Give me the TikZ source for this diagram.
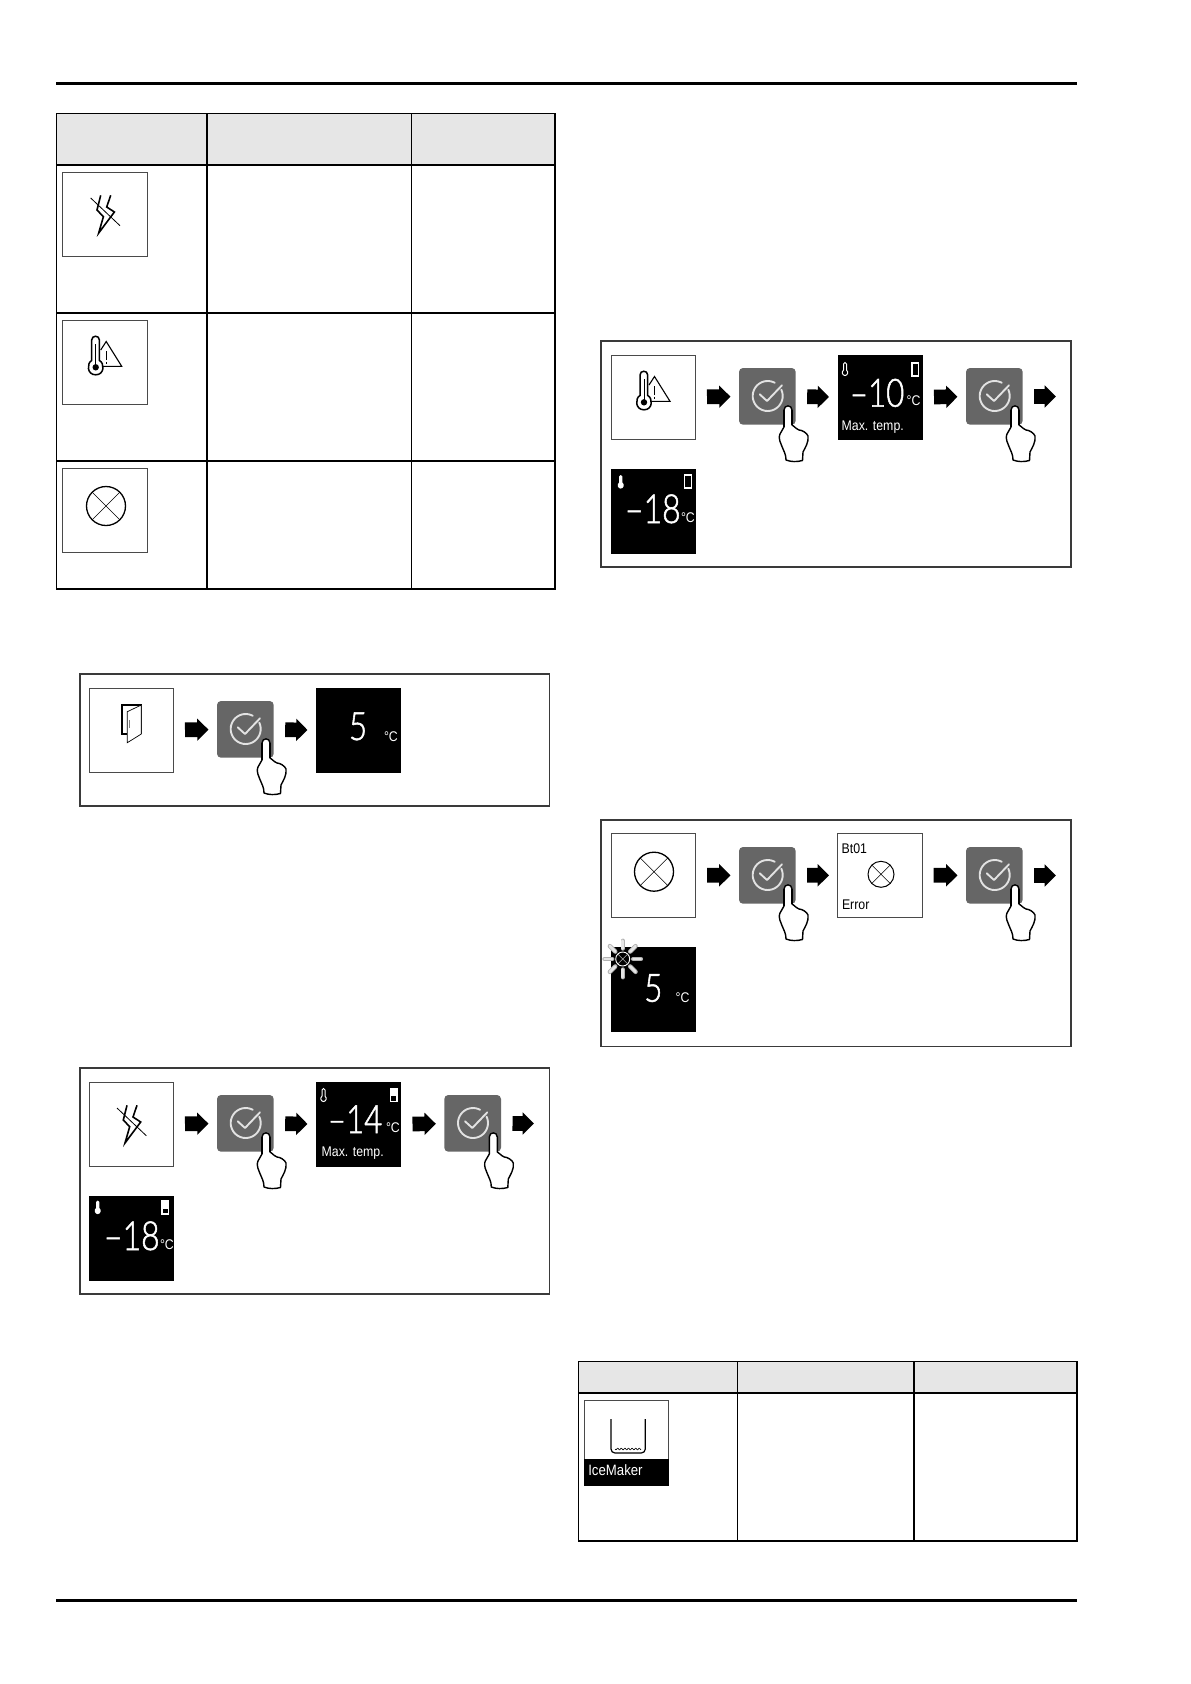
\documentclass[tikz,border=0pt]{standalone}
\usepackage{fontspec}
\usetikzlibrary{arrows.meta}
\setmainfont{Liberation Sans}
\newfontfamily\dispf[FakeStretch=0.88]{Liberation Sans}
\newfontfamily\bigf[FakeStretch=0.8,FakeBold=1.3]{Lato Light}
\definecolor{headgray}{HTML}{E6E6E6}
\definecolor{btngray}{HTML}{666666}
\definecolor{chk}{HTML}{E2E2E2}
\definecolor{boxline}{HTML}{3A3A3A}
\definecolor{tileline}{HTML}{4A4A4A}
\tikzset{
  x=1pt,y=-1pt,
  tline/.style={draw=black,line width=1.1pt},
  framebox/.style={draw=boxline,line width=1.1pt},
  tile/.style={minimum size=84.5pt,inner sep=0pt,outer sep=0pt,draw=tileline,line width=0.8pt,fill=white},
  blacktile/.style={minimum size=85pt,inner sep=0pt,outer sep=0pt,fill=black},
  btn/.style={minimum size=56.7pt,inner sep=0pt,outer sep=0pt,fill=btngray,rounded corners=4pt},
  flow/.style={line width=14.7pt,-{Triangle[length=11.3pt,width=21.7pt]},shorten <=11.5pt,shorten >=8.5pt},
  icon/.style={line width=1.6pt,line join=miter},
  disp/.style={text=white,inner sep=0pt,outer sep=0pt,anchor=base west},
  dtxt/.style={text=black,inner sep=0pt,outer sep=0pt,anchor=base west},
}
\newcommand{\okbtn}[3]{%
  \node[btn,anchor=north west] (#3) at (#1,#2) {};
  \begin{scope}[shift={(#1,#2)}]
    \draw[chk,line width=1.9pt,line cap=round] plot[domain=62:385,samples=40] ({28.7+15*cos(\x)},{28-15*sin(\x)});
    \draw[chk,line width=1.9pt,line cap=round,line join=round] (20.7,26.3) -- (28,33) -- (43,17.3);
    \draw[fill=white,draw=black,line width=1.4pt,line join=round] (45,42) .. controls (45,36.5) and (53,36.5) .. (53,42) -- (53,57) .. controls (57,59.5) and (58,62) .. (60,62) .. controls (63,62) and (68,65) .. (69,68) .. controls (70,74) and (66,80) .. (64,84) -- (63.5,92.5) .. controls (58,94) and (52,94) .. (47,92) .. controls (47,86) and (45,84) .. (42,76) .. controls (40,72) and (40,68) .. (41,66) -- (45,59) -- cycle;
    \draw[black,line width=1.1pt] (45,42) -- (45,59) (53,42) -- (53,57);
  \end{scope}}
\newcommand{\xcirc}[4]{% centre, radius, line width
  \draw[line width=#4pt] (#1,#2) circle[radius=#3pt];
  \draw[line width=0.6pt] (#1-#3*0.72,#2-#3*0.72) -- (#1+#3*0.72,#2+#3*0.72) (#1-#3*0.72,#2+#3*0.72) -- (#1+#3*0.72,#2-#3*0.72);}
\newcommand{\noPower}[2]{%
  \begin{scope}[shift={(#1,#2)}]
    \draw[icon] (38,23.3) -- (34.3,38) -- (40.7,44.7) -- (36,61) -- (51.7,40) -- (44,35) -- (48,23.3);
    \draw[line width=0.8pt] (28,26) -- (57.3,53.7);
  \end{scope}}
\newcommand{\thermWarn}[2]{%
  \begin{scope}[shift={(#1,#2)}]
    \draw[line width=1.1pt] (38,46.3) -- (59,46.3) -- (43.5,21.5) -- (38,30);
    \draw[line width=1pt] (43.3,31) -- (43.3,40) (43.3,41.8) -- (43.3,43.6);
    \draw[line width=1.5pt,fill=white] (29,40.5) -- (29,20) .. controls (29,15) and (36.7,15) .. (36.7,20) -- (36.7,40.5) .. controls (42,43) and (42,54.8) .. (33,54.8) .. controls (24,54.8) and (24,43) .. (29,40.5) -- cycle;
    \fill (33,47.3) circle[radius=3.2pt];
    \draw[line width=1pt] (33,24) -- (33,47);
  \end{scope}}
\newcommand{\thermO}[2]{%
  \begin{scope}[shift={(#1,#2)}]
    \draw[white,line width=1pt] (0,7.5) -- (0,1.5) .. controls (0,-0.5) and (3,-0.5) .. (3,1.5) -- (3,7.5) .. controls (5.2,9.5) and (4,13) .. (1.5,13) .. controls (-1,13) and (-2.2,9.5) .. (0,7.5) -- cycle;
  \end{scope}}
\newcommand{\thermS}[2]{%
  \begin{scope}[shift={(#1,#2)}]
    \fill[white] (0,7.5) -- (0,1.5) .. controls (0,-0.5) and (3.4,-0.5) .. (3.4,1.5) -- (3.4,7.5) .. controls (6,9.5) and (4.5,13.6) .. (1.7,13.6) .. controls (-1.1,13.6) and (-2.6,9.5) .. (0,7.5) -- cycle;
  \end{scope}}
\newcommand{\doorS}[3]{% frame with top part #3 high filled white
  \begin{scope}[shift={(#1,#2)}]
    \draw[white,line width=1.2pt] (0,0) rectangle (6.6,13);
    \fill[white] (0,0) rectangle (6.6,#3);
  \end{scope}}
\begin{document}
\begin{tikzpicture}
\useasboundingbox (0,0) rectangle (1191,1684);
\fill[white] (0,0) rectangle (1191,1684);
\coordinate (rtl) at (56,83.7); \coordinate (rtr) at (1077,83.7);
\coordinate (rbl) at (56,1600.3); \coordinate (rbr) at (1077,1600.3);
\draw[line width=3.3pt] (rtl) -- (rtr);
\draw[line width=3.3pt] (rbl) -- (rbr);
% table 1
\fill[headgray] (56.5,113.5) rectangle (555,165);
\draw[tline] (56.5,113.5) rectangle (555,589);
\draw[tline] (56.5,165) -- (555,165) (56.5,313) -- (555,313) (56.5,461) -- (555,461);
\draw[tline] (207,113.5) -- (207,589) (411.5,113.5) -- (411.5,589);
\node[tile,anchor=north west] (t1a) at (62.7,172) {};
\noPower{62.7}{172}
\node[tile,anchor=north west] (t1b) at (62.7,320) {};
\thermWarn{62.7}{320}
\node[tile,anchor=north west] (t1c) at (62.7,468) {};
\xcirc{106}{506}{19.5}{1.3}
% box A
\draw[framebox] (80,674) rectangle (549.5,806);
\node[tile,anchor=north west] (a1) at (89,688) {};
\begin{scope}[shift={(89,688)}]
  \draw[line width=1.6pt] (38.3,46) -- (32.7,46) -- (32.7,17) -- (52.3,17) -- (52.3,46);
  \draw[line width=0.7pt,fill=white] (38.3,23.7) -- (52.3,17) -- (52.3,46) -- (38.3,54.7) -- cycle;
  \draw[line width=0.9pt,gray] (40.5,32) -- (40.5,40);
\end{scope}
\okbtn{217}{701}{a2}
\node[blacktile,anchor=north west] (a3) at (316,688) {};
\node[disp,font=\bigf\fontsize{39}{39}\selectfont] at (349,740) {5};
\node[disp,font=\dispf\fontsize{14}{14}\selectfont] at (384,741) {°C};
\draw[flow] (a1) -- (a2);
\draw[flow] (a2) -- (a3);
% box B
\draw[framebox] (80,1068) rectangle (549.5,1294);
\node[tile,anchor=north west] (b1) at (89,1082) {};
\noPower{89}{1082}
\okbtn{217}{1095}{b2}
\node[blacktile,anchor=north west] (b3) at (316,1082) {};
\thermO{322}{1088.5}
\doorS{390.3}{1088.5}{7.5}
\node[disp,font=\bigf\fontsize{39}{39}\selectfont] at (328,1133) {–14};
\node[disp,font=\dispf\fontsize{14}{14}\selectfont] at (386,1132) {°C};
\node[disp,font=\dispf\fontsize{14}{14}\selectfont] at (321.7,1156.7) {Max. temp.};
\okbtn{444.3}{1095}{b4}
\coordinate (b5) at (542.5,1123.5);
\node[blacktile,anchor=north west] (b6) at (89,1196) {};
\thermS{96}{1200.5}
\doorS{162}{1201}{7.5}
\node[disp,font=\bigf\fontsize{40}{40}\selectfont] at (104,1250) {–18};
\node[disp,font=\dispf\fontsize{14}{14}\selectfont] at (160,1249) {°C};
\draw[flow] (b1) -- (b2);
\draw[flow] (b2) -- (b3);
\draw[flow] (b3) -- (b4);
\draw[flow] (b4) -- (b5);
% box C
\draw[framebox] (601,341) rectangle (1071,567);
\node[tile,anchor=north west] (c1) at (611,355) {};
\thermWarn{611}{355}
\okbtn{739}{368}{c2}
\node[blacktile,anchor=north west] (c3) at (837.5,355) {};
\thermO{843.5}{362.5}
\doorS{912}{363}{0}
\node[disp,font=\bigf\fontsize{39}{39}\selectfont] at (850,406.7) {–10};
\node[disp,font=\dispf\fontsize{14}{14}\selectfont] at (906.7,405.7) {°C};
\node[disp,font=\dispf\fontsize{14}{14}\selectfont] at (841.7,430.7) {Max. temp.};
\okbtn{966}{368}{c4}
\coordinate (c5) at (1064.5,396.5);
\node[blacktile,anchor=north west] (c6) at (611,469) {};
\thermS{619}{475}
\doorS{684.5}{475}{0}
\node[disp,font=\bigf\fontsize{40}{40}\selectfont] at (625,523) {–18};
\node[disp,font=\dispf\fontsize{14}{14}\selectfont] at (681,522) {°C};
\draw[flow] (c1) -- (c2);
\draw[flow] (c2) -- (c3);
\draw[flow] (c3) -- (c4);
\draw[flow] (c4) -- (c5);
% box D
\draw[framebox] (601,820) rectangle (1071,1046.7);
\node[tile,anchor=north west] (d1) at (611,833) {};
\xcirc{654}{871.7}{19.5}{1.3}
\okbtn{739}{847}{d2}
\node[tile,anchor=north west] (d3) at (837.5,833) {};
\xcirc{881}{874.3}{13}{1}
\node[dtxt,font=\dispf\fontsize{14}{14}\selectfont] at (841.7,853) {Bt01};
\node[dtxt,font=\dispf\fontsize{14}{14}\selectfont] at (842,909) {Error};
\okbtn{966}{847}{d4}
\coordinate (d5) at (1064.5,875.5);
\node[blacktile,anchor=north west] (d6) at (611,947) {};
\node[disp,font=\bigf\fontsize{39}{39}\selectfont] at (644.3,1001.7) {5};
\node[disp,font=\dispf\fontsize{14}{14}\selectfont] at (675.7,1002.3) {°C};
\foreach \a in {0,45,...,315}{
  \draw[gray!60,line width=4.4pt,line cap=round] ({622.7+10.5*cos(\a)},{959+10.5*sin(\a)}) -- ({622.7+18.2*cos(\a)},{959+18.2*sin(\a)});
  \draw[white!90!black,line width=2.6pt,line cap=round] ({622.7+10.5*cos(\a)},{959+10.5*sin(\a)}) -- ({622.7+18.2*cos(\a)},{959+18.2*sin(\a)});
}
\draw[white,line width=0.9pt,fill=black] (622.7,959) circle[radius=7pt];
\draw[white!70!black,line width=0.5pt] (618,954.3) -- (627.4,963.7) (618,963.7) -- (627.4,954.3);
\draw[flow] (d1) -- (d2);
\draw[flow] (d2) -- (d3);
\draw[flow] (d3) -- (d4);
\draw[flow] (d4) -- (d5);
% table 2
\fill[headgray] (578.5,1361.5) rectangle (1077,1393);
\draw[tline] (578.5,1361.5) rectangle (1077,1541);
\draw[tline] (578.5,1393) -- (1077,1393);
\draw[tline] (737.5,1361.5) -- (737.5,1541) (914,1361.5) -- (914,1541);
\node[tile,anchor=north west] (e1) at (584,1400.5) {};
\fill[black] (584,1459) rectangle (669,1485.5);
\begin{scope}[shift={(584,1400.5)}]
  \draw[line width=1.2pt,rounded corners=4pt] (27,18.7) -- (27,52.5) -- (61.3,52.5) -- (61.3,18.7);
  \draw[line width=0.6pt] plot[domain=0:26,samples=60] ({31+\x},{48.5+0.8*sin(\x*100)});
\end{scope}
\node[disp,font=\dispf\fontsize{15}{15}\selectfont] at (588.3,1475.7) {IceMaker};
\end{tikzpicture}
\end{document}
